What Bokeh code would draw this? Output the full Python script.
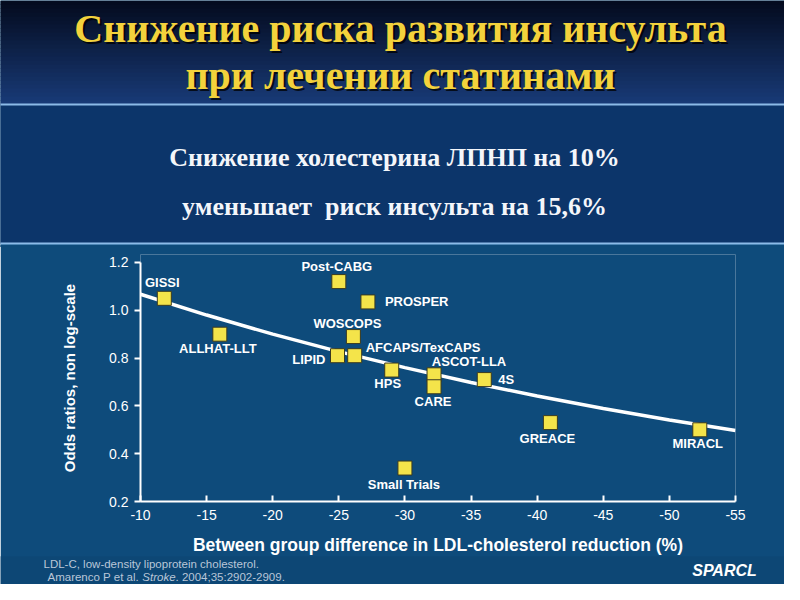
from bokeh.plotting import figure
from bokeh.layouts import column
from bokeh.models import (Range1d, LabelSet, ColumnDataSource, FixedTicker,
                          PrintfTickFormatter)
from bokeh.core.properties import value
from bokeh.embed import file_html
from bokeh.resources import INLINE

# ---------------- data ----------------
trials = ["GISSI", "ALLHAT-LLT", "Post-CABG", "PROSPER", "WOSCOPS", "LIPID",
          "AFCAPS/TexCAPS", "HPS", "ASCOT-LLA", "CARE", "4S", "GREACE",
          "MIRACL", "Small Trials"]
ldl_reduction = [-11.8, -16.0, -25.0, -27.2, -26.1, -24.9, -26.2, -29.0,
                 -32.2, -32.2, -36.0, -41.0, -52.3, -30.0]
odds_ratio = [1.05, 0.90, 1.12, 1.035, 0.89, 0.81, 0.81, 0.75,
              0.73, 0.68, 0.71, 0.53, 0.50, 0.34]

fit_ldl = [-10, -15, -20, -25, -30, -35, -40, -45, -50, -55]
fit_odds = [1.067, 0.980, 0.900, 0.827, 0.760, 0.698, 0.641, 0.589, 0.541, 0.497]

x_ticks = [-10, -15, -20, -25, -30, -35, -40, -45, -50, -55]
y_ticks = [0.2, 0.4, 0.6, 0.8, 1.0, 1.2]

title_lines = ["Снижение риска развития инсульта", "при лечении статинами"]
box_lines = ["Снижение холестерина ЛПНП на 10%", "уменьшает\u00a0 риск инсульта на 15,6%"]
x_label = "Between group difference in LDL-cholesterol reduction (%)"
y_label = "Odds ratios, non log-scale"
footnote_1 = "LDL-C, low-density lipoprotein cholesterol."
footnote_2 = ["Amarenco P et al. ", "Stroke", ". 2004;35:2902-2909."]
logo_text = "SPARCL"

# label placement (layout only, pixels; dy positive = up)
label_dx = [-2, -2, -2, 17, -6, -12, 11, -4, 35, -1, 14, -3, -2, -1]
label_dy = [16, -14, 15, 0, 13, -4, 8, -13, 13, -15, 0, -16, -14, -16]
label_align = ["center", "center", "center", "left", "center", "right", "left",
               "center", "center", "center", "left", "center", "center", "center"]

W = 784
TOP_H, CHART_H, BOT_H = 247, 311, 28
CHART_BG = "#0e4b7b"


def lerp(c0, c1, t):
    a = [int(c0[i:i + 2], 16) for i in (1, 3, 5)]
    b = [int(c1[i:i + 2], 16) for i in (1, 3, 5)]
    return "#%02x%02x%02x" % tuple(round(a[k] + (b[k] - a[k]) * t) for k in range(3))


def no_align(f):
    try:
        f.frame_align = False
    except Exception:
        pass


def canvas_fig(h, y0, bg):
    f = figure(width=W, height=h, output_backend="svg", toolbar_location=None,
               x_range=Range1d(0, W), y_range=Range1d(y0 + h, y0),
               x_axis_location=None, y_axis_location=None,
               min_border=0)
    f.grid.visible = False
    f.outline_line_color = None
    f.background_fill_color = bg
    f.border_fill_color = bg
    no_align(f)
    return f


# ---------------- top: title + text box ----------------
top = canvas_fig(TOP_H, 0, "#0f5384")
n = 26
band_h = 104 / n
bt = [i * band_h for i in range(n)]
bb = [(i + 1) * band_h + 0.6 for i in range(n)]
bc = [lerp("#040b1f", "#183a76", i / (n - 1)) for i in range(n)]
top.quad(left=-5, right=W + 5, top=bt, bottom=bb, fill_color=bc, line_color=None)
top.quad(left=-10, right=W + 10, top=104, bottom=243, fill_color="#0c356a",
         line_color="#8cbbe8", line_width=2)
top.quad(left=-10, right=W + 10, top=244.5, bottom=TOP_H + 2, fill_color=CHART_BG,
         line_color=None)

for dx, dy, col, alpha in ((2, 2, "black", 0.75), (0, 0, "#f3d23c", 1.0)):
    top.text(x=[400 + dx, 400 + dx], y=[28 + dy, 75 + dy], text=title_lines,
             text_align="center", text_baseline="middle",
             text_font=value("Liberation Serif"), text_font_size="40px",
             text_font_style="bold", text_color=col, text_alpha=alpha)

top.text(x=[394, 394], y=[157, 206], text=box_lines, text_align="center",
         text_baseline="middle", text_font=value("Liberation Serif"),
         text_font_size="26px", text_font_style="bold", text_color="#f4f6fa")

# ---------------- chart ----------------
p = figure(width=W, height=CHART_H, output_backend="svg", toolbar_location=None,
           x_range=Range1d(-10, -55), y_range=Range1d(0.2, 1.2 + 8 / 240),
           min_border_left=140, min_border_right=W - 735, min_border_top=8,
           min_border_bottom=55)
no_align(p)
p.margin = (-1, 0, 0, 0)
p.border_fill_color = CHART_BG
p.background_fill_color = CHART_BG
p.outline_line_color = None
p.grid.visible = False

for ax in (p.xaxis[0], p.yaxis[0]):
    ax.axis_line_color = "white"
    ax.axis_line_width = 2
    ax.major_tick_line_color = "white"
    ax.major_tick_line_width = 2
    ax.minor_tick_line_color = None
    ax.major_label_text_color = "white"
    ax.major_label_text_font = "Liberation Sans"
    ax.major_label_text_font_size = "14px"
    ax.axis_label_text_color = "white"
    ax.axis_label_text_font = "Liberation Sans"
    ax.axis_label_text_font_style = "bold"

p.xaxis.ticker = FixedTicker(ticks=x_ticks)
p.xaxis.formatter = PrintfTickFormatter(format="%d")
p.xaxis.major_tick_in = 6
p.xaxis.major_tick_out = 0
p.xaxis.major_label_standoff = 8
p.xaxis.axis_label = x_label
p.xaxis.axis_label_text_font_size = "17.5px"
p.xaxis.axis_label_standoff = 12

p.yaxis.ticker = FixedTicker(ticks=y_ticks)
p.yaxis.bounds = (0.2, 1.2)
p.yaxis.formatter = PrintfTickFormatter(format="%.1f")
p.yaxis.major_tick_in = 0
p.yaxis.major_tick_out = 6
p.yaxis.major_label_standoff = 6
p.yaxis.axis_label = y_label
p.yaxis.axis_label_text_font_size = "15px"
p.yaxis.axis_label_standoff = 28

p.line(fit_ldl, fit_odds, line_color="white", line_width=3.5)

src = ColumnDataSource(dict(x=ldl_reduction, y=odds_ratio, name=trials,
                            dx=label_dx, dy=label_dy, align=label_align))
p.scatter("x", "y", source=src, marker="square", size=14,
          fill_color="#f4e44a", line_color="#3a3a20", line_width=1)
p.add_layout(LabelSet(x="x", y="y", text="name", source=src,
                      x_offset="dx", y_offset="dy", text_align="align",
                      text_baseline="middle", text_color="white",
                      text_font=value("Liberation Sans"), text_font_style="bold",
                      text_font_size="13px"))

# ---------------- bottom: footnotes + logo ----------------
bot = canvas_fig(BOT_H, TOP_H + CHART_H - 2, "#0d4775")
bot.margin = (-1, 0, 0, 0)
foot = dict(text_baseline="middle", text_font=value("Liberation Sans"),
            text_font_size="11.5px", text_color="#b9c6d8")
bot.text(x=[43], y=[563], text=[footnote_1], **foot)
bot.text(x=[47, 47 + 128], y=[576, 576], text=[footnote_2[0], footnote_2[2]], **foot)
bot.text(x=[47 + 94.8], y=[576], text=[footnote_2[1]], text_font_style="italic", **foot)
bot.text(x=[724], y=[570], text=[logo_text], text_align="center",
         text_baseline="middle", text_font=value("Liberation Sans"),
         text_font_size="16px", text_font_style="bold italic", text_color="white")

layout = column(top, p, bot, spacing=0)
open("out.html", "w").write(file_html(layout, INLINE))
